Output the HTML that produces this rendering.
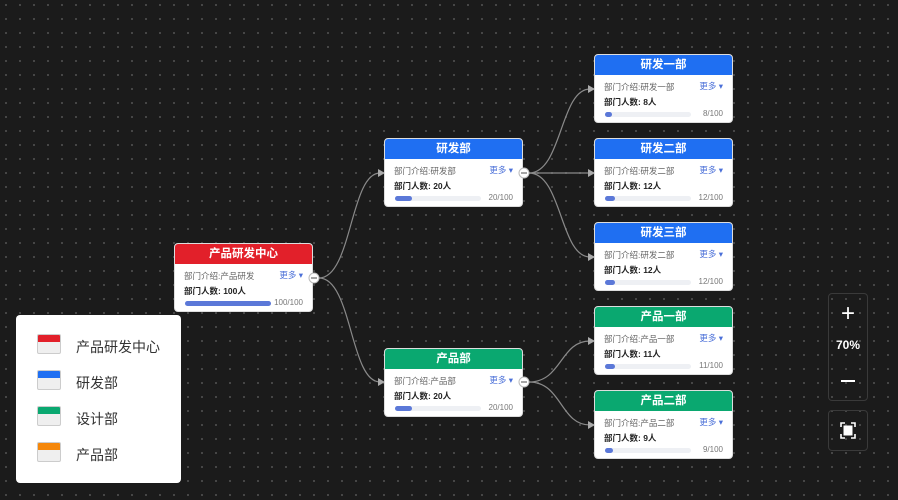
<!DOCTYPE html>
<html><head><meta charset="utf-8"><style>
body{margin:0;width:898px;height:500px;overflow:hidden;background:#1b1b1b;font-family:"Liberation Sans","Noto Sans CJK SC",sans-serif;position:relative}
.bg{position:absolute;inset:0;background-image:radial-gradient(circle,#4a4a4a 1px,transparent 1.2px);background-size:14px 14px;background-position:-1px -2px}
.n{position:absolute;width:139px;height:69px;background:#fff;border-radius:4px;overflow:hidden;border:1px solid #ddd;box-sizing:border-box}
.h{height:20px;line-height:20px;color:#fff;font-weight:bold;font-size:11.5px;text-align:center}
.d{position:absolute;left:9px;top:26px;font-size:8.5px;color:#666}
.m{position:absolute;right:9px;top:25px;font-size:8.5px;color:#4a6fd8}
.c{position:absolute;left:9px;top:41px;font-size:8.5px;font-weight:bold;color:#222}
.t{position:absolute;left:10px;top:57px;width:86px;height:5px;background:#eef0f4;border-radius:3px}
.f{height:5px;background:#5b78d8;border-radius:3px}
.v{position:absolute;right:9px;top:54px;font-size:8px;color:#777}
.lg{position:absolute;left:16px;top:315px;width:165px;height:168px;background:#fff;border-radius:4px}
.li{position:absolute;left:21px;width:22px;height:18px;border:1px solid #ccc;border-radius:2px;background:#efefef;overflow:hidden}
.li i{display:block;height:7px}
.lt{position:absolute;left:60px;font-size:14px;color:#333}
.zb{position:absolute;left:828px;width:40px;border:1px solid #3a3a3a;border-radius:4px;box-sizing:border-box;color:#fff;text-align:center}
</style></head><body>
<div class="bg"></div>
<svg width="898" height="500" style="position:absolute;left:0;top:0">
<g fill="none" stroke="#8a8a8a" stroke-width="1.2">
<path d="M319 278 C352 278,350 173,380 173"/>
<path d="M319 278 C352 278,350 382,380 382"/>
<path d="M529 173 C562 173,560 89,590 89"/>
<path d="M529 173 L590 173"/>
<path d="M529 173 C562 173,560 257,590 257"/>
<path d="M529 382 C562 382,560 341,590 341"/>
<path d="M529 382 C562 382,560 425,590 425"/>
</g>
<g fill="#aaa">
<path d="M378 169 L385 173 L378 177Z"/><path d="M378 378 L385 382 L378 386Z"/>
<path d="M588 85 L595 89 L588 93Z"/><path d="M588 169 L595 173 L588 177Z"/><path d="M588 253 L595 257 L588 261Z"/>
<path d="M588 337 L595 341 L588 345Z"/><path d="M588 421 L595 425 L588 429Z"/>
</g>
</svg>

<div class="n" style="left:174px;top:243px"><div class="h" style="background:#e2202a">产品研发中心</div><div class="d">部门介绍:产品研发</div><div class="m">更多 ▾</div><div class="c">部门人数: 100人</div><div class="t"><div class="f" style="width:86px"></div></div><div class="v">100/100</div></div>
<div class="n" style="left:384px;top:138px"><div class="h" style="background:#1f6ff2">研发部</div><div class="d">部门介绍:研发部</div><div class="m">更多 ▾</div><div class="c">部门人数: 20人</div><div class="t"><div class="f" style="width:17px"></div></div><div class="v">20/100</div></div>
<div class="n" style="left:384px;top:348px"><div class="h" style="background:#0aa870">产品部</div><div class="d">部门介绍:产品部</div><div class="m">更多 ▾</div><div class="c">部门人数: 20人</div><div class="t"><div class="f" style="width:17px"></div></div><div class="v">20/100</div></div>
<div class="n" style="left:594px;top:54px"><div class="h" style="background:#1f6ff2">研发一部</div><div class="d">部门介绍:研发一部</div><div class="m">更多 ▾</div><div class="c">部门人数: 8人</div><div class="t"><div class="f" style="width:7px"></div></div><div class="v">8/100</div></div>
<div class="n" style="left:594px;top:138px"><div class="h" style="background:#1f6ff2">研发二部</div><div class="d">部门介绍:研发二部</div><div class="m">更多 ▾</div><div class="c">部门人数: 12人</div><div class="t"><div class="f" style="width:10px"></div></div><div class="v">12/100</div></div>
<div class="n" style="left:594px;top:222px"><div class="h" style="background:#1f6ff2">研发三部</div><div class="d">部门介绍:研发二部</div><div class="m">更多 ▾</div><div class="c">部门人数: 12人</div><div class="t"><div class="f" style="width:10px"></div></div><div class="v">12/100</div></div>
<div class="n" style="left:594px;top:306px"><div class="h" style="background:#0aa870">产品一部</div><div class="d">部门介绍:产品一部</div><div class="m">更多 ▾</div><div class="c">部门人数: 11人</div><div class="t"><div class="f" style="width:10px"></div></div><div class="v">11/100</div></div>
<div class="n" style="left:594px;top:390px"><div class="h" style="background:#0aa870">产品二部</div><div class="d">部门介绍:产品二部</div><div class="m">更多 ▾</div><div class="c">部门人数: 9人</div><div class="t"><div class="f" style="width:8px"></div></div><div class="v">9/100</div></div>

<svg width="898" height="500" style="position:absolute;left:0;top:0">
<g fill="#fff" stroke="#bbb" stroke-width="1">
<circle cx="314" cy="278" r="5"/><circle cx="524" cy="173" r="5"/><circle cx="524" cy="382" r="5"/></g>
<g stroke="#888" stroke-width="1.5"><path d="M311 278h6M521 173h6M521 382h6"/></g>
</svg>

<div class="lg">
<div class="li" style="top:19px"><i style="background:#e2202a"></i></div><div class="lt" style="top:22px">产品研发中心</div>
<div class="li" style="top:55px"><i style="background:#1f6ff2"></i></div><div class="lt" style="top:58px">研发部</div>
<div class="li" style="top:91px"><i style="background:#0aa870"></i></div><div class="lt" style="top:94px">设计部</div>
<div class="li" style="top:127px"><i style="background:#f5870a"></i></div><div class="lt" style="top:130px">产品部</div>
</div>

<div class="zb" style="top:293px;height:108px">
<div style="font-size:24px;line-height:24px;margin-top:8px;font-weight:300">+</div>
<div style="font-size:12px;font-weight:bold;margin-top:12px">70%</div>
<div style="width:14px;height:2px;background:#fff;margin:28px auto 0"></div>
</div>
<div class="zb" style="top:410px;height:41px">
<svg width="38" height="39" viewBox="0 0 38 39"><g fill="none" stroke="#fff" stroke-width="1.6"><path d="M12 16v-4h4M22 12h4v4M26 23v4h-4M16 27h-4v-4"/></g><rect x="14.5" y="14.5" width="9" height="10" fill="#fff"/></svg>
</div>
</body></html>
